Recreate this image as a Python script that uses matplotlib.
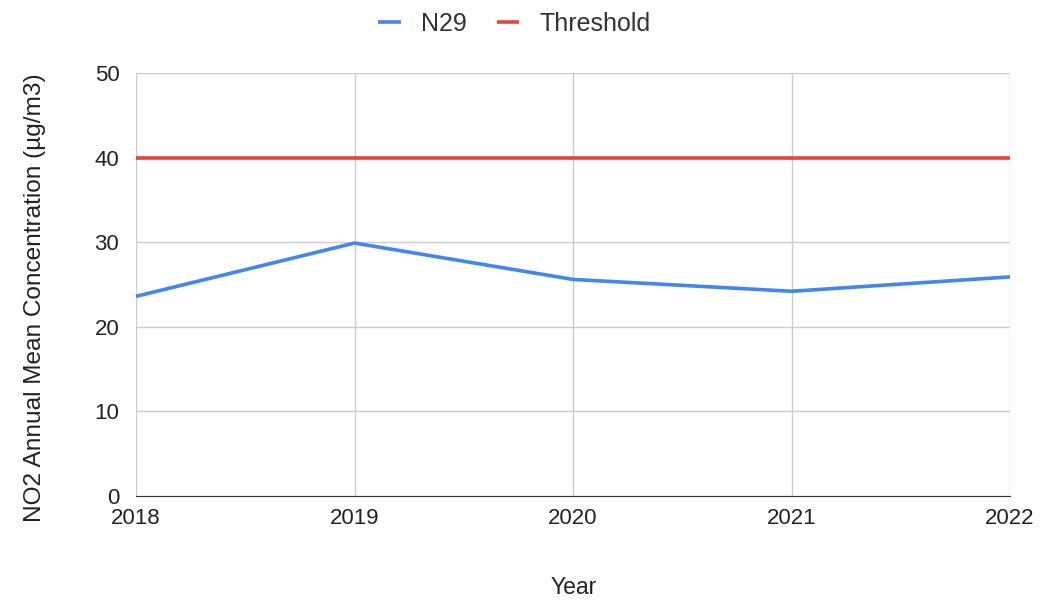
import matplotlib.pyplot as plt

years = [2018, 2019, 2020, 2021, 2022]
n29 = [23.6, 29.9, 25.6, 24.2, 25.9]
threshold = [40, 40, 40, 40, 40]

plt.rcParams["font.family"] = ["Liberation Sans", "DejaVu Sans"]

fig = plt.figure(figsize=(10.43, 6.05), dpi=100)
ax = fig.add_axes([136 / 1043, 109 / 605, 874 / 1043, 423 / 605])

ax.plot(years, n29, color="#4285f4", lw=2.6, label="N29", solid_capstyle="butt")
ax.plot(years, threshold, color="#ea4335", lw=2.6, label="Threshold", solid_capstyle="butt")

ax.set_xlim(2018, 2022)
ax.set_ylim(0, 50)
ax.set_xticks(years)
ax.set_yticks(range(0, 51, 10))
ax.grid(True, color="#cccccc", lw=1)
ax.set_axisbelow(True)
for s in ["top", "right", "left"]:
    ax.spines[s].set_visible(False)
ax.spines["bottom"].set_color("#333333")
ax.tick_params(length=0, labelsize=16, colors="#222222", pad=9)
ax.tick_params(axis="y", pad=12)

ax.set_xlabel("Year", fontsize=16.5, color="#222222")
ax.xaxis.set_label_coords(0.501, -0.19)
ax.set_ylabel("NO2 Annual Mean Concentration (µg/m3)", fontsize=17.6, color="#222222")
ax.yaxis.set_label_coords(-0.103, 0.468)

fig.legend(loc="upper center", bbox_to_anchor=(0.493, 1.018), ncol=2, frameon=False,
           fontsize=18, handlelength=0.9, columnspacing=1.2, handletextpad=0.8,
           labelcolor="#333333")

fig.savefig("out.png", dpi=100)
